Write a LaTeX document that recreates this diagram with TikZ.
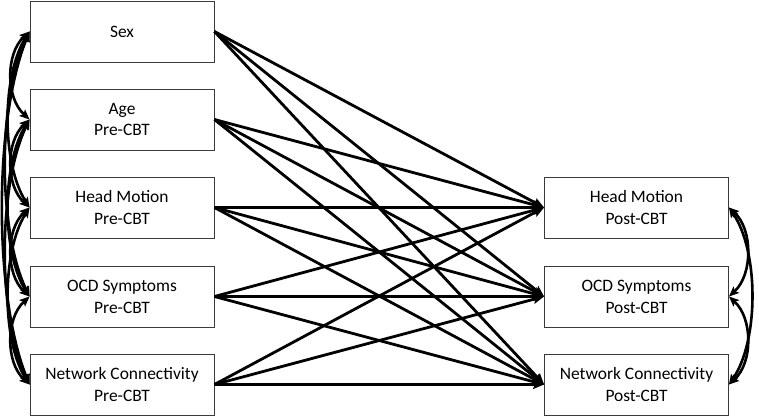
\documentclass[tikz,border=0pt]{standalone}
\usepackage{fontspec}
\setmainfont{Carlito}
\usetikzlibrary{arrows.meta}
\definecolor{boxgray}{HTML}{3A3A3A}
\begin{document}
\begin{tikzpicture}[x=1bp,y=-1bp,
  box/.style={draw=boxgray, line width=0.9bp, minimum width=184bp, minimum height=61bp,
    inner sep=0pt, align=center, font=\fontsize{17.5}{22}\selectfont},
  arr/.style={line width=2.8bp, -{Stealth[length=11bp,width=9bp,inset=2bp]}},
  biarr/.style={line width=2.6bp, {Stealth[length=10bp,width=8.5bp,inset=2bp]}-{Stealth[length=10bp,width=8.5bp,inset=2bp]}}]
\useasboundingbox (0,0) rectangle (759,416);
% left boxes
\node[box] (sex) at (122,31.5) {Sex};
\node[box] (age) at (122,119.5) {Age\\Pre-CBT};
\node[box] (hmpre) at (122,207.5) {Head Motion\\Pre-CBT};
\node[box] (ocdpre) at (122,296.5) {OCD Symptoms\\Pre-CBT};
\node[box] (ncpre) at (122,384.5) {Network Connectivity\\Pre-CBT};
% right boxes
\node[box] (hmpost) at (636.5,207.5) {Head Motion\\Post-CBT};
\node[box] (ocdpost) at (636.5,296.5) {OCD Symptoms\\Post-CBT};
\node[box] (ncpost) at (636.5,384.5) {Network Connectivity\\Post-CBT};
% regression paths
\foreach \s in {sex,age,hmpre,ocdpre,ncpre}{
  \foreach \t in {hmpost,ocdpost,ncpost}{
    \draw[arr] (\s.east) -- (\t.west);
  }
}
% left covariances
\draw[biarr] (sex.west) .. controls +(-24,22) and +(-24,-22) .. (age.west);
\draw[biarr] (age.west) .. controls +(-24,22) and +(-24,-22) .. (hmpre.west);
\draw[biarr] (hmpre.west) .. controls +(-24,22) and +(-24,-22) .. (ocdpre.west);
\draw[biarr] (ocdpre.west) .. controls +(-24,22) and +(-24,-22) .. (ncpre.west);
\draw[biarr] (sex.west) .. controls +(-28,44) and +(-28,-44) .. (hmpre.west);
\draw[biarr] (age.west) .. controls +(-28,44) and +(-28,-44) .. (ocdpre.west);
\draw[biarr] (hmpre.west) .. controls +(-28,44) and +(-28,-44) .. (ncpre.west);
\draw[biarr] (sex.west) .. controls +(-32,66) and +(-32,-66) .. (ocdpre.west);
\draw[biarr] (age.west) .. controls +(-32,66) and +(-32,-66) .. (ncpre.west);
\draw[biarr] (sex.west) .. controls +(-36,88) and +(-36,-88) .. (ncpre.west);
% right covariances
\draw[biarr] (hmpost.east) .. controls +(24,22) and +(24,-22) .. (ocdpost.east);
\draw[biarr] (ocdpost.east) .. controls +(24,22) and +(24,-22) .. (ncpost.east);
\draw[biarr] (hmpost.east) .. controls +(30,44) and +(30,-44) .. (ncpost.east);
\end{tikzpicture}
\end{document}
